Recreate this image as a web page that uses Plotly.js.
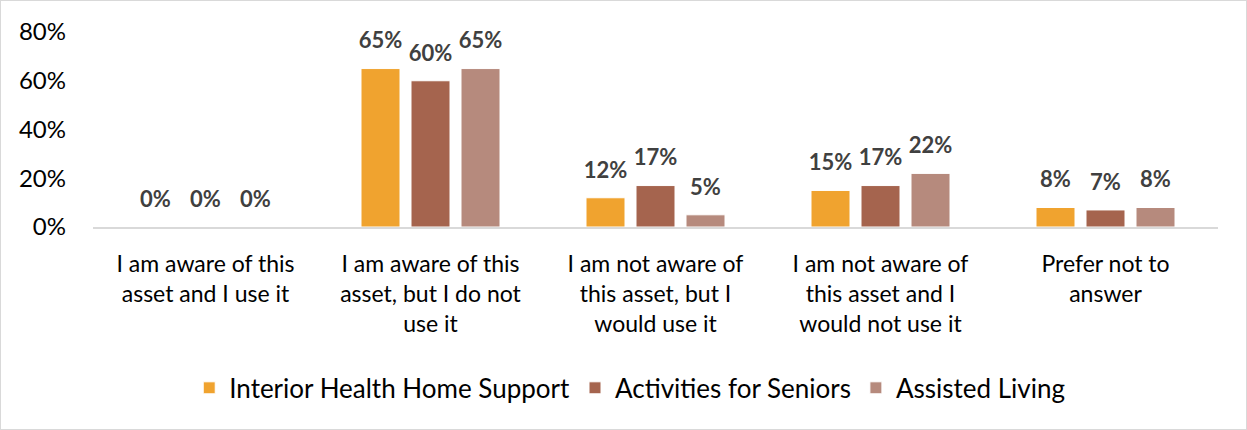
<!DOCTYPE html>
<html>
<head>
<meta charset="utf-8">
<script src="https://cdn.plot.ly/plotly-3.0.1.min.js"></script>
<style>
  html, body { margin: 0; padding: 0; background: #fff; }
  #chart { width: 1247px; height: 430px; box-sizing: border-box; border: 1px solid #D9D9D9; }
</style>
</head>
<body>
<div id="chart"></div>
<script>
const categories = [
  "I am aware of this<br>asset and I use it",
  "I am aware of this<br>asset, but I do not<br>use it",
  "I am not aware of<br>this asset, but I<br>would use it",
  "I am not aware of<br>this asset and I<br>would not use it",
  "Prefer not to<br>answer"
];
const seriesNames = ["Interior Health Home Support", "Activities for Seniors", "Assisted Living"];
const homeSupport = [0, 65, 12, 15, 8];
const activitiesSeniors = [0, 60, 17, 17, 7];
const assistedLiving = [0, 65, 5, 22, 8];
const colors = ["#F0A32F", "#A5644E", "#B68A7D"];
const yTickVals = [0, 20, 40, 60, 80];
const yTickText = ["0%", "20%", "40%", "60%", "80%"];

const seriesValues = [homeSupport, activitiesSeniors, assistedLiving];
const FONT = "Lato, 'Open Sans', sans-serif";

const traces = [];
seriesValues.forEach((vals, i) => {
  traces.push({
    type: "bar",
    name: seriesNames[i],
    x: categories,
    y: vals,
    marker: { color: colors[i], line: { color: "#ffffff", width: 1 } },
    hoverinfo: "skip"
  });
});
seriesValues.forEach((vals, i) => {
  traces.push({
    type: "scatter",
    mode: "markers+text",
    x: categories,
    y: vals,
    showlegend: false,
    marker: { size: 22, opacity: 0, color: colors[i] },
    text: vals.map(v => v + "%"),
    textposition: "top center",
    textfont: { family: FONT, size: 22, color: "#404040", weight: "bold" },
    cliponaxis: false,
    hoverinfo: "skip"
  });
});

const layout = {
  width: 1245,
  height: 428,
  margin: { l: 92, r: 28, t: 31, b: 202 },
  paper_bgcolor: "#ffffff",
  plot_bgcolor: "#ffffff",
  font: { family: FONT, size: 22, color: "#000000" },
  barmode: "group",
  bargap: 1/3,
  bargroupgap: 0.22,
  scattermode: "group",
  scattergap: 1/3,
  xaxis: {
    type: "category",
    showline: true,
    linecolor: "#D9D9D9",
    linewidth: 1.5,
    showgrid: false,
    ticks: "",
    ticklabelstandoff: 16,
    tickfont: { family: FONT, size: 23, color: "#000000" },
    fixedrange: true
  },
  yaxis: {
    range: [0, 80],
    tickmode: "array",
    tickvals: yTickVals,
    ticktext: yTickText,
    showgrid: false,
    zeroline: false,
    showline: false,
    ticks: "",
    ticklabelstandoff: 26,
    tickfont: { family: FONT, size: 24, color: "#000000" },
    fixedrange: true
  },
  showlegend: true,
  legend: {
    orientation: "h",
    xref: "container",
    yref: "container",
    x: 0.505,
    xanchor: "center",
    y: 0.096,
    yanchor: "middle",
    font: { family: FONT, size: 26, color: "#000000" },
    itemwidth: 30,
    traceorder: "normal"
  }
};

Plotly.newPlot("chart", traces, layout, { displayModeBar: false, staticPlot: true });
</script>
</body>
</html>
